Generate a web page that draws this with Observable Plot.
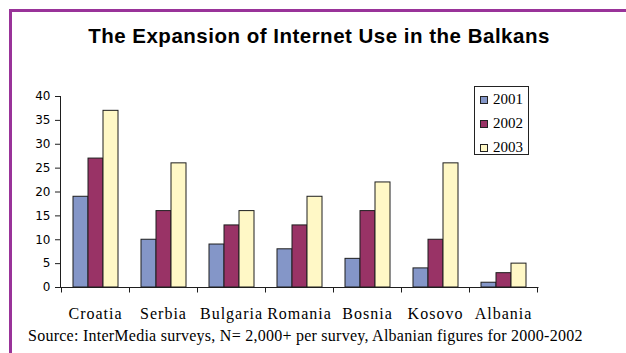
<!DOCTYPE html>
<html>
<head>
<meta charset="utf-8">
<script src="https://cdn.jsdelivr.net/npm/d3@7"></script>
<script src="https://cdn.jsdelivr.net/npm/@observablehq/plot@0.6"></script>
<style>
  html, body { margin: 0; padding: 0; background: #ffffff; }
  #wrap { position: relative; width: 626px; height: 353px; overflow: hidden; background: #ffffff; }
  #border { position: absolute; left: 9px; top: 9px; width: 700px; height: 400px;
            border-left: 3px solid #993399; border-top: 3px solid #993399; }
  #chart { position: absolute; left: 0; top: 0; }
  #title { position: absolute; left: 6px; top: 26px; width: 626px; text-align: center;
           font: bold 20.5px "Liberation Sans", Arial, sans-serif; line-height: 20.5px;
           letter-spacing: 0.5px; color: #000; white-space: nowrap; }
  #caption { position: absolute; left: 28px; top: 328px; white-space: nowrap;
             font: 16px "Liberation Serif", "Times New Roman", serif; line-height: 16px;
             letter-spacing: 0.25px; color: #000; }
  #legend { position: absolute; left: 474px; top: 86px; width: 55px; height: 69px;
            box-sizing: border-box; border: 1px solid #222; background: #fff; }
  .item { position: absolute; left: 5px; height: 24px; display: flex; align-items: center;
          font: 15px "Liberation Serif", "Times New Roman", serif; color: #000; }
  .sw { width: 8px; height: 8px; box-sizing: border-box; border: 1px solid #222; margin-right: 5px; }
  [aria-label^="fx-axis"] text { letter-spacing: 1px; }
</style>
</head>
<body>
<div id="wrap">
  <div id="border"></div>
  <div id="title"></div>
  <div id="chart"></div>
  <div id="legend"></div>
  <div id="caption"></div>
</div>
<script>
// ---- data ----
const titleText = "The Expansion of Internet Use in the Balkans";
const captionText = "Source: InterMedia surveys, N= 2,000+ per survey, Albanian figures for 2000-2002";
const countries = ["Croatia", "Serbia", "Bulgaria", "Romania", "Bosnia", "Kosovo", "Albania"];
const years = ["2001", "2002", "2003"];
const values2001 = [19, 10, 9, 8, 6, 4, 1];
const values2002 = [27, 16, 13, 13, 16, 10, 3];
const values2003 = [37, 26, 16, 19, 22, 26, 5];
const yTicks = [0, 5, 10, 15, 20, 25, 30, 35, 40];
const colors = ["#8496c8", "#993366", "#fff8c6"];

const series = [values2001, values2002, values2003];
const data = countries.flatMap((c, i) => years.map((yr, j) => ({country: c, year: yr, value: series[j][i]})));

document.getElementById("title").textContent = titleText;
document.getElementById("caption").textContent = captionText;

const ink = "#1e1e1e";

const plot = Plot.plot({
  width: 626,
  height: 353,
  marginTop: 96,
  marginBottom: 66,
  marginLeft: 60,
  marginRight: 88,
  style: {background: "transparent", overflow: "visible", color: "#000"},
  fx: {domain: countries, paddingInner: 0, paddingOuter: 0, label: null},
  x: {domain: years, paddingInner: 0, paddingOuter: 0.72, axis: null},
  y: {domain: [0, 40], label: null},
  color: {domain: years, range: colors},
  marks: [
    Plot.barY(data, {fx: "country", x: "year", y: "value", fill: "year", stroke: ink, strokeWidth: 1, inset: 0}),
    Plot.axisY({ticks: yTicks, tickSize: 6, tickPadding: 5, fontSize: 12, fontFamily: "DejaVu Sans", label: null, stroke: ink, fill: "#000"}),
    Plot.axisFx({anchor: "bottom", tickSize: 0, tickPadding: 20, fontSize: 16, fontFamily: "Liberation Serif", label: null, fill: "#000"})
  ]
});

// axis lines and category boundary ticks, from the plot's own scales
const fx = plot.scale("fx");
const y = plot.scale("y");
const g = d3.select(plot).append("g").attr("stroke", ink).attr("stroke-width", 1);
const x0 = fx.range[0], x1 = fx.range[1];
const y0 = y.apply(0), yTop = y.apply(40);
g.append("line").attr("x1", x0 + 0.5).attr("x2", x0 + 0.5).attr("y1", yTop).attr("y2", y0 + 0.5);
g.append("line").attr("x1", x0).attr("x2", x1 + 0.5).attr("y1", y0 + 0.5).attr("y2", y0 + 0.5);
const bounds = countries.map(c => fx.apply(c)).concat([fx.apply(countries[countries.length - 1]) + fx.bandwidth]);
g.selectAll("line.b").data(bounds).join("line").attr("class", "b")
  .attr("x1", d => Math.round(d) + 0.5).attr("x2", d => Math.round(d) + 0.5)
  .attr("y1", y0 + 0.5).attr("y2", y0 + 5.5);

document.getElementById("chart").appendChild(plot);

// legend from the same years/colors
const legend = d3.select("#legend");
years.forEach((yr, i) => {
  const it = legend.append("div").attr("class", "item").style("top", (0.5 + i * 24) + "px");
  it.append("div").attr("class", "sw").style("background", colors[i]);
  it.append("span").text(yr);
});
</script>
</body>
</html>
